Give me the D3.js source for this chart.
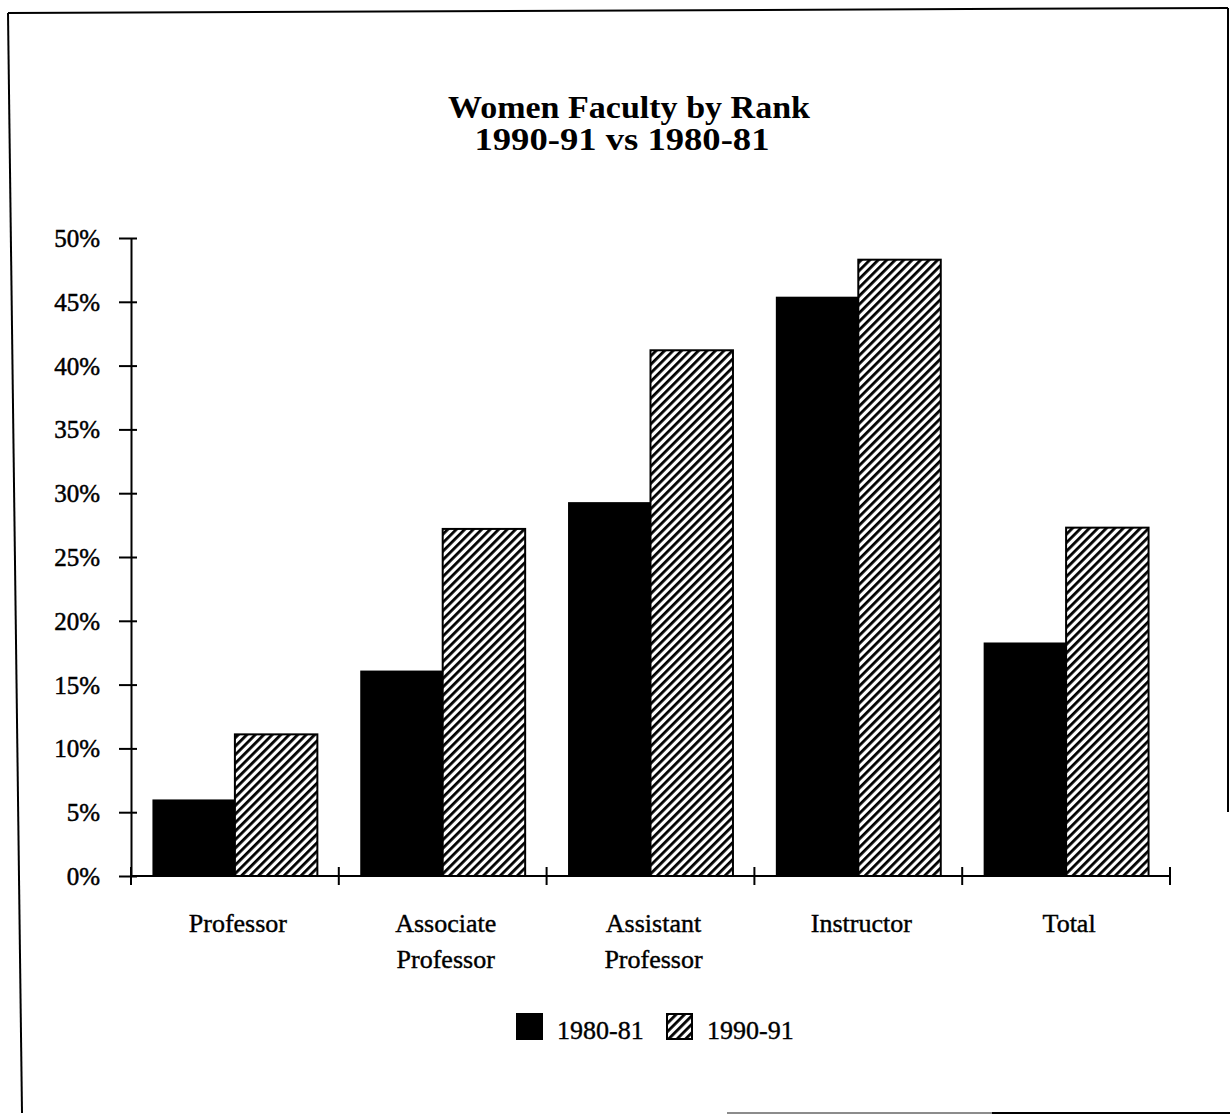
<!DOCTYPE html>
<html>
<head>
<meta charset="utf-8">
<script src="https://cdn.jsdelivr.net/npm/d3@7"></script>
<style>
  html, body { margin: 0; padding: 0; background: #fff; }
  svg { display: block; }
  text { font-family: "Liberation Serif", "Times New Roman", serif; fill: #000; }
</style>
</head>
<body>
<script>
const categories = ["Professor", "Associate\nProfessor", "Assistant\nProfessor", "Instructor", "Total"];
const seriesNames = ["1980-81", "1990-91"];
const values1980 = [6.0, 16.1, 29.3, 45.4, 18.3];
const values1990 = [11.1, 27.2, 41.2, 48.3, 27.3];
const yTicks = [0, 5, 10, 15, 20, 25, 30, 35, 40, 45, 50];
const titleLines = ["Women Faculty by Rank", "1990-91 vs 1980-81"];

const W = 1230, H = 1115;
const svg = d3.select("body").append("svg").attr("width", W).attr("height", H);

// hatch pattern
const defs = svg.append("defs");
const pat = defs.append("pattern").attr("id", "hatch")
  .attr("patternUnits", "userSpaceOnUse").attr("width", 6).attr("height", 6)
  .attr("patternTransform", "rotate(45)");
pat.append("rect").attr("width", 6).attr("height", 6).attr("fill", "#fff");
pat.append("rect").attr("x", 0).attr("y", 0).attr("width", 2.8).attr("height", 6).attr("fill", "#000");

// frame
const frame = svg.append("g").attr("fill", "none").attr("stroke", "#000").attr("stroke-width", 2);
frame.append("path").attr("d", "M8,13 L1228,8");
frame.append("path").attr("d", "M8,13 L22,1113");
frame.append("path").attr("d", "M1228,8 L1228,812");
frame.append("path").attr("d", "M727,1113 L1230,1113").attr("stroke", "#666").attr("stroke-width", 1.5);
frame.append("path").attr("d", "M992,1113 L1230,1113");

// title
const titleWidths = [362, 295];
const titleX = [629, 622];
const tt = svg.append("text").attr("text-anchor", "middle")
  .attr("font-weight", "bold").attr("font-size", 31);
tt.selectAll("tspan").data(titleLines).join("tspan")
  .attr("x", (d, i) => titleX[i]).attr("y", (d, i) => 118 + i * 32)
  .attr("textLength", (d, i) => titleWidths[i]).attr("lengthAdjust", "spacingAndGlyphs")
  .text(d => d);

// scales
const y = d3.scaleLinear().domain([0, 50]).range([876, 238]);
const x = d3.scaleBand().domain(categories).range([131, 1170]).paddingInner(0).paddingOuter(0);
const x1 = d3.scaleBand().domain(seriesNames).range([0, x.bandwidth()]).paddingInner(0).paddingOuter(0.26);

// y axis
const yAxis = svg.append("g").attr("transform", `translate(131,0)`)
  .call(d3.axisLeft(y).tickValues(yTicks).tickFormat(d => d + "%").tickSizeOuter(0).tickSizeInner(12));
yAxis.select(".domain").attr("stroke", "#000").attr("stroke-width", 2);
yAxis.selectAll(".tick line").attr("x1", 6).attr("stroke", "#000").attr("stroke-width", 2);
yAxis.selectAll(".tick text").attr("x", -31).attr("dy", "0.34em")
  .attr("font-size", 25).attr("font-family", "Liberation Serif").attr("fill", "#000")
  .attr("stroke", "#000").attr("stroke-width", 0.5);

// bars
const data = categories.map((c, i) => ({ cat: c, vals: [values1980[i], values1990[i]] }));
const groups = svg.append("g").selectAll("g").data(data).join("g")
  .attr("transform", d => `translate(${x(d.cat)},0)`);
groups.selectAll("rect").data(d => d.vals.map((v, j) => ({ s: seriesNames[j], v }))).join("rect")
  .attr("x", d => x1(d.s))
  .attr("width", x1.bandwidth())
  .attr("y", d => y(d.v))
  .attr("height", d => y(0) - y(d.v))
  .attr("fill", d => d.s === seriesNames[0] ? "#000" : "url(#hatch)")
  .attr("stroke", "#000")
  .attr("stroke-width", d => d.s === seriesNames[0] ? 0 : 2);

// x axis
const xg = svg.append("g");
xg.append("line").attr("x1", 131).attr("x2", x.range()[1])
  .attr("y1", y(0)).attr("y2", y(0)).attr("stroke", "#000").attr("stroke-width", 2);
const boundaries = categories.map(c => x(c)).concat([x.range()[1]]);
xg.selectAll("line.tk").data(boundaries).join("line").attr("class", "tk")
  .attr("x1", d => d).attr("x2", d => d)
  .attr("y1", y(0) - 9).attr("y2", y(0) + 9)
  .attr("stroke", "#000").attr("stroke-width", 2);

// category labels
xg.selectAll("text.cat").data(categories).join("text").attr("class", "cat")
  .attr("text-anchor", "middle").attr("font-size", 26)
  .attr("stroke", "#000").attr("stroke-width", 0.4)
  .each(function (d) {
    const t = d3.select(this);
    d.split("\n").forEach((ln, i) => {
      t.append("tspan").attr("x", x(d) + x.bandwidth() / 2 + 3).attr("y", 932 + i * 36).text(ln);
    });
  });

// legend
const lg = svg.append("g");
const legendItems = [
  { name: seriesNames[0], fill: "#000", bx: 517, tx: 557 },
  { name: seriesNames[1], fill: "url(#hatch)", bx: 667, tx: 707 }
];
lg.selectAll("rect").data(legendItems).join("rect")
  .attr("x", d => d.bx).attr("y", 1014).attr("width", 25).attr("height", 25)
  .attr("fill", d => d.fill).attr("stroke", "#000").attr("stroke-width", 2);
lg.selectAll("text").data(legendItems).join("text")
  .attr("x", d => d.tx).attr("y", 1039).attr("font-size", 26)
  .attr("stroke", "#000").attr("stroke-width", 0.4).text(d => d.name);
</script>
</body>
</html>
